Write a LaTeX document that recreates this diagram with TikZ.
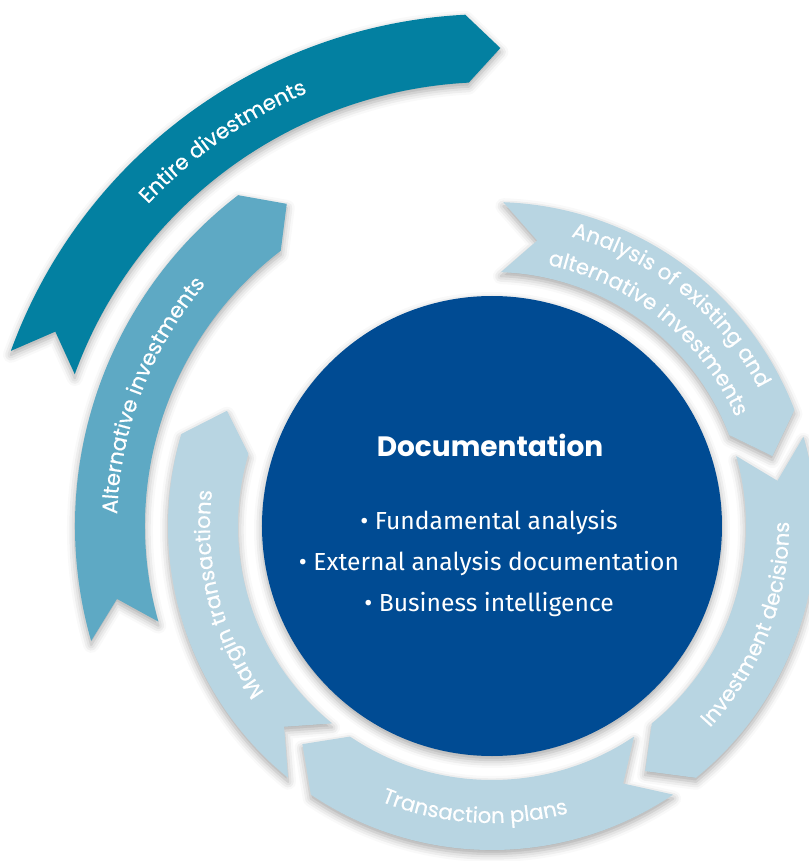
\documentclass[tikz,border=0pt]{standalone}
\usepackage{fontspec}
\setmainfont{Poppins}
\newfontfamily\arcface{Poppins}[FakeBold=0.5]
\newfontfamily\bulletfont{Fira Sans}
\usetikzlibrary{decorations.text, shadows.blur}
\definecolor{cnavy}{HTML}{004B93}
\definecolor{cteal}{HTML}{0380A1}
\definecolor{caqua}{HTML}{5EA9C4}
\definecolor{cpale}{HTML}{B8D5E2}
\tikzset{
  every picture/.style={x=0.75pt, y=0.75pt},
  band/.style={fill=#1, blur shadow={shadow xshift=0pt, shadow yshift=-3pt, shadow blur radius=6pt, shadow opacity=35}},
  hub/.style={circle, fill=cnavy, minimum size=345pt, inner sep=0pt,
              blur shadow={shadow xshift=0pt, shadow yshift=-3pt, shadow blur radius=6pt, shadow opacity=35}},
  title/.style={text=white, font=\bfseries\fontsize{21}{25}\selectfont},
  bullet/.style={text=white, font=\bulletfont\fontsize{18.5}{22}\selectfont},
}
\newcommand\arcfont{\arcface\fontsize{16}{19}\selectfont}
\newcommand\bandlabel[4]{\path[decorate, decoration={text along path, text align=center, text color=white,
  text={|\arcfont|#4}}] (#2:#1) arc[start angle=#2, end angle=#3, radius=#1];}

\begin{document}
\begin{tikzpicture}
  \useasboundingbox (-492,-335) rectangle (316,526);
  % the six arrows: colour / inner r / outer r / tail angle / head angle / tip depth
  \foreach \c/\ri/\ro/\a/\b/\d in {cteal/444/512/160/93/4, caqua/347/417/196/127.5/5,
      cpale/254/324/88/21/7, cpale/254/324/16/-51/7, cpale/254/324/-56/-124/7, cpale/254/324/231/163.5/7}
    \fill[band=\c] (\a:\ro) arc[start angle=\a, end angle=\b, radius=\ro]
      -- ({\b-\d}:{(\ri+\ro)/2}) -- (\b:\ri) arc[start angle=\b, end angle=\a, radius=\ri]
      -- ({\a-\d}:{(\ri+\ro)/2}) -- cycle;
  % labels on the arrows (clockwise ones read outward, the lower right ones inward)
  \bandlabel{471}{152}{98}{Entire divestments}
  \bandlabel{375}{192}{126}{Alternative investments}
  \bandlabel{282}{227}{162}{Margin transactions}
  \bandlabel{300}{84}{18}{Analysis of existing and}
  \bandlabel{267}{84}{18}{alternative investments}
  \bandlabel{297}{-54}{12}{Investment decisions}
  \bandlabel{297}{-127}{-60}{Transaction plans}
  % the hub
  \node[hub] (core) at (0,0) {};
  \node[title] (head) at (-2,81) {Documentation};
  \foreach \k/\t/\y in {1/Fundamental analysis/3, 2/External analysis documentation/-38, 3/Business intelligence/-79}
    \node[bullet] (b\k) at (-3,\y) {• \t};
\end{tikzpicture}
\end{document}
